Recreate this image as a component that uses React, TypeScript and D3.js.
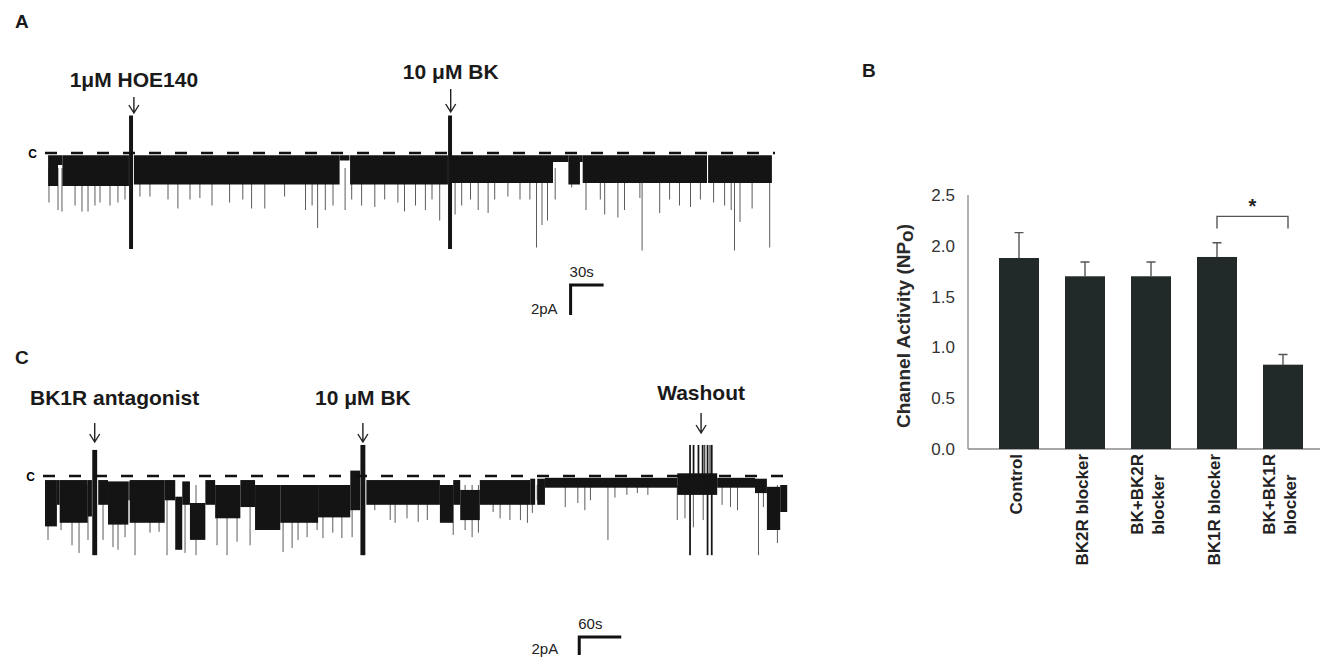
import * as d3 from 'd3';
import React, { useRef, useEffect } from 'react';

const FONT = '"Liberation Sans", Arial, Helvetica, sans-serif';

// ---------- Panel A: HOE140 then BK (time in s, current in pA, 0 = closed) ----------
// blocks: [start s, end s, upper pA, lower pA]
const traceABlocks = [
  [1, 10, -0.15, -2.2], [10, 14, -0.15, -0.8], [14, 74.5, -0.15, -2.2],
  [79, 266, -0.15, -2.1], [266, 275, -0.15, -0.5], [275.5, 364.5, -0.15, -2.1],
  [368, 460, -0.15, -2.0], [460, 474, -0.15, -0.6], [474, 484.5, -0.15, -2.1],
  [484.5, 487, -0.15, -0.6], [487, 600, -0.15, -2.0], [601, 659, -0.15, -2.0],
];
// perfusion artifacts: [start s, end s, upper pA, lower pA]
const traceAArtifacts = [
  [74.6, 78.2, 2.5, -6.4],
  [364.6, 368.2, 2.5, -6.4],
];
// brief openings: [time s, peak pA]
const traceASpikes = [
  [1.8, -3.3], [10, -3.8], [13.6, -3.9], [25.5, -3.5], [31.8, -3.9], [37.3, -3.9], [43.6, -3.5],
  [48.2, -3.3], [57.3, -3.5], [64.5, -3.3], [70.9, -3.1], [84.5, -2.9], [93.6, -2.9], [110, -3.1],
  [119, -3.7], [130, -3.1], [139, -3.0], [150, -3.5], [166, -3.3], [178, -3.1], [186, -3.7],
  [198, -3.7], [216, -2.9], [235, -3.8], [241, -3.5], [246, -5.0], [253, -3.8], [260, -3.5],
  [271, -3.8], [277, -3.1], [286, -3.5], [298, -3.6], [307, -3.1], [319, -3.3], [325, -3.9],
  [335, -3.5], [344, -3.8], [350, -3.1], [357, -4.5], [371, -4.1], [377, -3.5], [385, -3.1],
  [392, -3.8], [401, -4.0], [407, -3.1], [419, -2.9], [430, -3.1], [439, -3.1], [445, -6.3],
  [450, -4.8], [455, -4.5], [462, -3.1], [477, -2.3], [490, -3.8], [503, -3.1], [507, -4.1],
  [519, -4.3], [525, -3.8], [539, -3.0], [541, -6.5], [557, -4.0], [566, -3.1], [575, -3.5],
  [585, -3.6], [594, -3.1], [606, -3.3], [616, -3.5], [622, -3.8], [625, -6.5], [630, -4.6],
  [641, -3.7], [657, -6.3],
];
const traceAEvents = [
  { label: '1\u03bcM HOE140', t: 79 },
  { label: '10 \u03bcM BK', t: 367 },
];

// ---------- Panel C: BK1R antagonist, BK, washout ----------
const traceCBlocks = [
  [0, 17, -0.45, -5.6], [17, 21, -0.45, -3.2], [21, 61, -0.45, -5.2], [61, 67, -0.45, -4.5],
  [76, 90, -0.45, -3.2], [90, 119, -0.6, -5.4], [119, 121, -0.6, -2.7], [121, 171, -0.45, -5.2],
  [171, 186, -0.45, -2.7], [186, 196, -2.3, -8.2], [196, 207, -0.6, -3.2], [207, 229, -3.0, -7.1],
  [229, 243, -0.45, -3.2], [243, 279, -1.0, -4.7], [279, 300, -0.45, -3.45], [300, 336, -1.0, -6.0],
  [336, 390, -1.0, -5.2], [390, 436, -1.0, -4.6], [436, 450, 0.6, -3.8], [459, 564, -0.45, -3.2],
  [564, 583, -1.0, -5.2], [583, 593, -0.45, -3.2], [593, 621, -1.55, -4.9], [621, 693, -0.45, -3.2],
  [693, 700, -0.3, -3.2], [703, 714, -0.3, -3.2], [714, 903, -0.2, -1.3], [903, 960, 0.3, -2.1],
  [960, 1014, -0.2, -1.3], [1014, 1031, -0.3, -1.9], [1031, 1050, -1.2, -6.0], [1050, 1060, -1.0, -4.0],
];
const traceCArtifacts = [
  [67.5, 74.5, 2.9, -8.8], [450.5, 457.5, 3.45, -8.8],
  [920, 922.5, 3.45, -8.8], [925, 927.5, 3.45, -1], [932, 934.5, 3.45, -1], [938, 940.5, 3.45, -1],
  [941.5, 943, 3.45, -1], [945, 947.5, 3.45, -8.8], [949, 950.5, 3.45, -1], [951, 953.5, 3.45, -8.8],
];
const traceCSpikes = [
  [4.3, -7.1], [22.9, -6.0], [38.6, -7.7], [48.6, -8.55], [61.4, -7.1], [82.9, -7.1], [97.1, -7.9],
  [104.3, -8.2], [114.3, -6.8], [128.6, -8.8], [150, -6.3], [162.9, -6.2], [174.3, -8.8], [200, -8.55],
  [215.7, -8.8], [245.7, -7.7], [260, -8.8], [274.3, -7.3], [292.9, -7.7], [307, -5.2], [324, -5.6],
  [340, -8.45], [352.9, -8.0], [361.4, -7.1], [374.3, -6.8], [388.6, -6.0], [397, -6.9], [411, -6.3],
  [424, -6.9], [438.6, -6.8], [471, -3.8], [493, -4.9], [500, -5.2], [517, -4.7], [533, -5.1],
  [546, -4.9], [567, -5.1], [583, -6.55], [600, -6.0], [610, -6.8], [619, -6.3], [640, -4.0],
  [650, -4.7], [664, -4.9], [679, -4.9], [689, -5.2], [696, -4.1], [703, -2.7], [743, -3.45],
  [761, -3.0], [771, -3.8], [779, -2.7], [804, -7.1], [814, -2.4], [831, -2.1], [846, -1.9],
  [861, -2.1], [903, -4.9], [914, -4.7], [926, -5.7], [940, -4.9], [967, -3.2], [979, -3.45],
  [989, -3.8], [1019, -8.8], [1026, -3.45], [1046, -7.45],
];
const traceCEvents = [
  { label: 'BK1R antagonist', t: 71 },
  { label: '10 \u03bcM BK', t: 454 },
  { label: 'Washout', t: 937 },
];

// ---------- Panel B: channel activity ----------
const groups = ['Control', 'BK2R blocker', 'BK+BK2R blocker', 'BK1R blocker', 'BK+BK1R blocker'];
const groupLines = [['Control'], ['BK2R blocker'], ['BK+BK2R', 'blocker'], ['BK1R blocker'], ['BK+BK1R', 'blocker']];
const npoMean = [1.88, 1.70, 1.70, 1.89, 0.83];
const npoSem = [0.25, 0.14, 0.14, 0.14, 0.10];
const yTicks = [0, 0.5, 1.0, 1.5, 2.0, 2.5];

const drawTrace = (g, x, y, blocks, artifacts, spikes) => {
  g.selectAll('line.spike').data(spikes).join('line')
    .attr('class', 'spike')
    .attr('x1', (d) => x(d[0])).attr('x2', (d) => x(d[0]))
    .attr('y1', y(-1)).attr('y2', (d) => y(d[1]))
    .attr('stroke', '#5c5c5c').attr('stroke-width', 1);
  g.selectAll('rect.block').data(blocks.concat(artifacts)).join('rect')
    .attr('class', 'block')
    .attr('x', (d) => x(d[0]))
    .attr('width', (d) => Math.max(1, x(d[1]) - x(d[0])))
    .attr('y', (d) => y(d[2]))
    .attr('height', (d) => y(d[3]) - y(d[2]))
    .attr('fill', '#141414');
  const [x0, x1] = x.range();
  g.append('line')
    .attr('x1', x0 - 2).attr('x2', x1 + 2)
    .attr('y1', y(0)).attr('y2', y(0))
    .attr('stroke', '#111').attr('stroke-width', 2.6)
    .attr('stroke-dasharray', '12,14');
  g.append('text')
    .attr('x', x0 - 10).attr('y', y(0) + 5)
    .attr('text-anchor', 'end')
    .attr('font-size', 12).attr('font-weight', 'bold')
    .text('C');
};

const drawEvents = (g, x, events, labelY, arrowTop, arrowBottom) => {
  events.forEach((ev, i) => {
    const cx = x(ev.t);
    const txt = g.append('text')
      .attr('x', cx).attr('y', labelY[i])
      .attr('text-anchor', 'middle')
      .attr('font-size', 21).attr('font-weight', 'bold')
      .attr('fill', '#1a1a1a')
      .text(ev.label);
    const box = txt.node().getBBox();
    if (box.x < 30) txt.attr('x', cx + (30 - box.x));
    const top = arrowTop[i];
    const bot = arrowBottom[i];
    g.append('path')
      .attr('d', `M${cx},${top}L${cx},${bot}M${cx - 5},${bot - 8}L${cx},${bot}L${cx + 5},${bot - 8}`)
      .attr('fill', 'none').attr('stroke', '#222').attr('stroke-width', 1.4);
  });
};

const drawScaleBar = (g, x, y, t0, i0, dt, di, tLabel, iLabel, iGap) => {
  const px = x(t0);
  const py = y(i0);
  const pxEnd = x(t0 + dt);
  const pyEnd = y(i0 - di);
  g.append('path')
    .attr('d', `M${pxEnd},${py}L${px},${py}L${px},${pyEnd}`)
    .attr('fill', 'none').attr('stroke', '#111').attr('stroke-width', 3);
  g.append('text').attr('x', px - 1).attr('y', py - 8)
    .attr('font-size', 15).attr('fill', '#222').text(tLabel);
  g.append('text').attr('x', px - iGap).attr('y', pyEnd - 1)
    .attr('text-anchor', 'end')
    .attr('font-size', 15).attr('fill', '#222').text(iLabel);
};

const App = () => {
  const ref = useRef(null);

  useEffect(() => {
    document.body.style.margin = '0';
    const svg = d3.select(ref.current);
    svg.selectAll('*').remove();
    svg.attr('font-family', FONT);

    // panel letters
    [['A', 15, 28], ['B', 862, 77], ['C', 15, 364]].forEach(([t, px, py]) => {
      svg.append('text').attr('x', px).attr('y', py)
        .attr('font-size', 19).attr('font-weight', 'bold').attr('fill', '#1a1a1a').text(t);
    });

    // ---- A ----
    const xA = d3.scaleLinear().domain([0, 660]).range([47, 773]);
    const yA = d3.scaleLinear().domain([0, -7]).range([153, 258]);
    const gA = svg.append('g');
    drawTrace(gA, xA, yA, traceABlocks, traceAArtifacts, traceASpikes);
    drawEvents(gA, xA, traceAEvents, [87, 79], [97, 89], [113, 112]);
    drawScaleBar(gA, xA, yA, 476, -8.8, 30, 2, '30s', '2pA', 13);

    // ---- C ----
    const xC = d3.scaleLinear().domain([0, 1064]).range([45, 790]);
    const yC = d3.scaleLinear().domain([0, -9]).range([476, 557]);
    const gC = svg.append('g');
    drawTrace(gC, xC, yC, traceCBlocks, traceCArtifacts, traceCSpikes);
    drawEvents(gC, xC, traceCEvents, [405, 405, 400], [423, 423, 413], [442, 442, 433]);
    drawScaleBar(gC, xC, yC, 763, -17.9, 60, 2, '60s', '2pA', 21);

    // ---- B ----
    const gB = svg.append('g');
    const y = d3.scaleLinear().domain([0, 2.5]).range([449, 195]);
    const x = d3.scaleBand().domain(groups).range([986, 1316])
      .paddingInner(0.394).paddingOuter(0.197);

    gB.append('line').attr('x1', 968).attr('x2', 968)
      .attr('y1', y(2.5)).attr('y2', y(0))
      .attr('stroke', '#8a8a8a').attr('stroke-width', 1.3);
    gB.append('line').attr('x1', 968).attr('x2', 1320)
      .attr('y1', y(0)).attr('y2', y(0))
      .attr('stroke', '#8a8a8a').attr('stroke-width', 1.3);

    gB.selectAll('text.ytick').data(yTicks).join('text')
      .attr('class', 'ytick')
      .attr('x', 955).attr('y', (d) => y(d))
      .attr('dy', '0.35em').attr('text-anchor', 'end')
      .attr('font-size', 17).attr('fill', '#333')
      .text((d) => d.toFixed(1));

    gB.append('text')
      .attr('transform', `translate(910,${(y(0) + y(2.5)) / 2 + 4}) rotate(-90)`)
      .attr('text-anchor', 'middle')
      .attr('font-size', 19).attr('font-weight', 'bold').attr('fill', '#2a2a2a')
      .call((t) => {
        t.append('tspan').text('Channel Activity (NP');
        t.append('tspan').attr('dy', 3).text('o');
        t.append('tspan').attr('dy', -3).text(')');
      });

    // error bars (upper only)
    groups.forEach((gname, i) => {
      const cx = x(gname) + x.bandwidth() / 2;
      const top = y(npoMean[i] + npoSem[i]);
      gB.append('path')
        .attr('d', `M${cx},${y(npoMean[i])}L${cx},${top}M${cx - 4.5},${top}L${cx + 4.5},${top}`)
        .attr('fill', 'none').attr('stroke', '#555').attr('stroke-width', 1.4);
    });

    gB.selectAll('rect.bar').data(groups).join('rect')
      .attr('class', 'bar')
      .attr('x', (d) => x(d))
      .attr('width', x.bandwidth())
      .attr('y', (d, i) => y(npoMean[i]))
      .attr('height', (d, i) => y(0) - y(npoMean[i]))
      .attr('fill', '#222a29');

    // category labels, rotated
    groups.forEach((gname, i) => {
      const cx = x(gname) + x.bandwidth() / 2;
      const lines = groupLines[i];
      const n = lines.length;
      const lh = 21;
      const base = cx - ((n - 1) * lh) / 2 - 3;
      let startY = null;
      lines.forEach((ln, k) => {
        const t = gB.append('text')
          .attr('font-size', 17).attr('font-weight', 'bold').attr('fill', '#222')
          .attr('dy', '0.35em')
          .text(ln);
        if (k === 0) {
          t.attr('text-anchor', 'end')
            .attr('transform', `translate(${base},454) rotate(-90)`);
          startY = 454 + t.node().getComputedTextLength();
        } else {
          t.attr('text-anchor', 'start')
            .attr('transform', `translate(${base + k * lh},${startY}) rotate(-90)`);
        }
      });
    });

    // significance bracket between BK1R blocker and BK+BK1R blocker
    const c1 = x(groups[3]) + x.bandwidth() / 2;
    const c2 = x(groups[4]) + x.bandwidth() / 2 + 5;
    gB.append('path')
      .attr('d', `M${c1},${y(2.17)}L${c1},${y(2.29)}L${c2},${y(2.29)}L${c2},${y(2.17)}`)
      .attr('fill', 'none').attr('stroke', '#555').attr('stroke-width', 1.4);
    gB.append('text')
      .attr('x', (c1 + c2) / 2).attr('y', y(2.29) - 3)
      .attr('text-anchor', 'middle')
      .attr('font-size', 20).attr('font-weight', 'bold').attr('fill', '#222')
      .text('*');
  }, []);

  return (
    <svg ref={ref} width={1342} height={664} style={{ display: 'block', background: '#fff' }} />
  );
};

export default App;
